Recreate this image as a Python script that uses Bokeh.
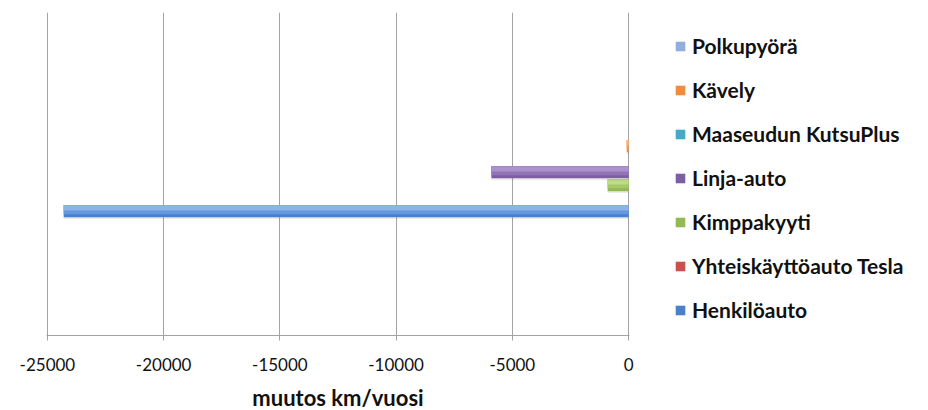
from bokeh.plotting import figure
from bokeh.models import Range1d, FixedTicker, Legend, LegendItem
from bokeh.embed import file_html
from bokeh.resources import INLINE

# Change in yearly kilometres per mode of transport (km/vuosi)
modes = ["Henkilöauto", "Yhteiskäyttöauto Tesla", "Kimppakyyti", "Linja-auto",
         "Maaseudun KutsuPlus", "Kävely", "Polkupyörä"]
change_km = [-24300, 0, -900, -5900, 0, -80, 0]

# fill colours per series: body, middle band and top highlight
body_colors = ["#4A7FCB", "#C9504C", "#93B955", "#7C5FA3", "#43A9C7", "#F08C3E", "#93AEDD"]
mid_colors = ["#6597DC", "#D9625E", "#A5C86A", "#9173B6", "#5DBBD6", "#F69D5C", "#A8C0E6"]
light_colors = ["#8AB4EA", "#E8847F", "#BCDA88", "#AB91CD", "#86D0E6", "#FBB784", "#C3D3F0"]

x_ticks = [-25000, -20000, -15000, -10000, -5000, 0]
x_tick_labels = ["-25000", "-20000", "-15000", "-10000", "-5000", "0"]
x_title = "muutos km/vuosi"

FONT = "Lato"
GROUP_CENTER = 0.506
STEP = 0.0402
BAR_H = 0.038

p = figure(frame_width=583, frame_height=323, output_backend="svg", toolbar_location=None,
           x_range=Range1d(-25040, 40), y_range=Range1d(0, 1),
           min_border_left=46, min_border_right=299, min_border_top=12,
           min_border_bottom=75)
p.outline_line_color = None
p.background_fill_color = "white"
p.border_fill_color = "white"

n = len(modes)
ys = [GROUP_CENTER + (i - (n - 1) / 2) * STEP for i in range(n)]

renderers = []
for i, (name, val) in enumerate(zip(modes, change_km)):
    y = ys[i]
    # soft drop shadow
    p.hbar(y=[y - 0.006], left=[val], right=[0], height=BAR_H,
           fill_color="#808080", fill_alpha=0.16, line_color=None)
    body = p.hbar(y=[y], left=[val], right=[0], height=BAR_H,
                  fill_color=body_colors[i], line_color=None)
    # stepped shading toward a lighter top edge
    p.hbar(y=[y + BAR_H * 0.12], left=[val], right=[0], height=BAR_H * 0.76,
           fill_color=mid_colors[i], line_color=None)
    p.hbar(y=[y + BAR_H * 0.26], left=[val], right=[0], height=BAR_H * 0.42,
           fill_color=light_colors[i], line_color=None)
    renderers.append(body)

# axes and grid
p.yaxis.visible = False
p.ygrid.visible = False
p.xgrid.ticker = FixedTicker(ticks=x_ticks)
p.xgrid.grid_line_color = "#A3A3A3"
p.xgrid.grid_line_width = 1

xa = p.xaxis[0]
xa.ticker = FixedTicker(ticks=x_ticks)
xa.major_label_overrides = {t: s for t, s in zip(x_ticks, x_tick_labels)}
xa.axis_line_color = "#A3A3A3"
xa.major_tick_line_color = "#A3A3A3"
xa.major_tick_out = 5
xa.major_tick_in = 0
xa.minor_tick_line_color = None
xa.major_label_text_font = FONT
xa.major_label_text_font_size = "17px"
xa.major_label_text_color = "#111111"
xa.major_label_standoff = 17
xa.axis_label = x_title
xa.axis_label_text_font = FONT
xa.axis_label_text_font_style = "bold"
xa.axis_label_text_font_size = "22px"
xa.axis_label_text_color = "#111111"
xa.axis_label_standoff = 10

# legend on the right, reversed order so Polkupyörä is on top
items = [LegendItem(label=modes[i], renderers=[renderers[i]]) for i in reversed(range(n))]
legend = Legend(items=items, location=(45, 13), orientation="vertical",
                padding=0, margin=0, spacing=19,
                glyph_width=12, glyph_height=12, label_standoff=6,
                label_height=24,
                label_text_font=FONT, label_text_font_style="bold",
                label_text_font_size="21px", label_text_color="#111111",
                border_line_alpha=0, background_fill_alpha=0)
p.add_layout(legend, "right")

open("out.html", "w").write(file_html(p, INLINE))
